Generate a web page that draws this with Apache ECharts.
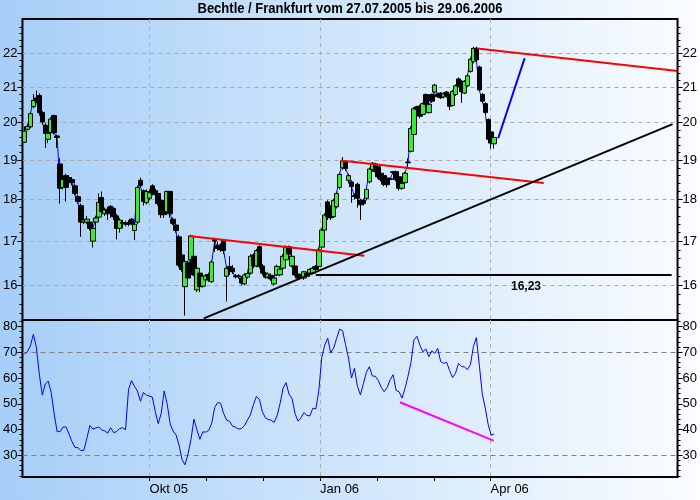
<!DOCTYPE html>
<html><head><meta charset="utf-8">
<script src="https://cdn.jsdelivr.net/npm/echarts@6/dist/echarts.min.js"></script>
<style>
html,body{margin:0;padding:0;}
#c{width:700px;height:500px;background:linear-gradient(to right,#a6cef8 0%,#d0e6fb 50%,#fbfdff 100%);}
</style>
</head><body><div id="c"></div>
<script>
const titleText = 'Bechtle / Frankfurt vom 27.07.2005 bis 29.06.2006';

// daily candles (trading-day index 0..158)
const openP = [19.47,19.82,19.89,20.45,20.69,20.76,20.28,19.93,19.55,19.73,
20.2,19.64,18.9,18.3,18.6,18.55,18.5,18.34,18.07,17.85,
17.45,17.45,17.45,17.0,17.45,17.57,18.05,17.65,17.76,17.83,
17.78,17.6,17.3,17.44,17.42,17.44,17.52,17.25,17.45,18.48,
18.22,17.92,18.03,18.34,18.22,18.15,17.98,17.7,17.7,18.2,
17.52,17.38,17.1,16.68,15.97,16.5,16.57,16.65,15.9,16.27,
15.98,16.12,16.24,16.08,17.04,16.9,16.91,17.02,16.2,16.42,
16.38,16.21,16.21,16.16,16.03,16.18,16.27,16.68,16.43,16.87,
16.43,16.27,16.18,16.22,16.03,16.23,16.23,16.38,16.57,16.87,
16.43,16.43,16.25,16.21,16.16,16.27,16.27,16.27,16.42,16.42,
16.86,17.26,17.94,17.82,17.58,17.82,18.3,18.8,18.96,18.48,
18.44,18.1,18.38,17.98,17.98,18.03,18.44,18.75,18.9,18.83,
18.66,18.6,18.54,18.52,18.68,18.7,18.57,18.28,18.42,18.95,
19.23,19.68,20.44,20.46,20.23,20.79,20.28,20.79,20.86,20.8,
20.83,20.72,20.86,20.79,20.48,20.79,21.24,21.17,20.83,21.04,
21.46,21.75,22.15,21.59,20.79,20.53,20.09,19.75,19.43];
const closeP = [19.77,19.9,20.25,20.62,20.6,20.28,20.02,19.71,19.71,20.1,
19.73,19.6,18.28,18.5,18.3,18.43,18.42,18.15,17.95,17.45,
17.5,17.52,17.3,17.3,17.55,17.93,17.7,17.74,17.65,17.7,
17.58,17.3,17.5,17.42,17.4,17.4,17.43,17.4,18.3,18.35,
17.95,18.2,18.17,18.15,18.12,17.9,17.63,17.63,18.2,17.65,
17.42,17.25,16.45,16.35,16.53,16.16,17.12,16.23,16.38,15.97,
16.2,16.21,16.12,16.52,17.0,16.83,16.8,16.78,16.38,16.35,
16.3,16.19,16.19,16.05,16.23,16.26,16.65,16.43,16.78,16.42,
16.27,16.18,16.25,16.14,16.16,16.42,16.36,16.65,16.86,16.7,
16.65,16.23,16.16,16.19,16.3,16.2,16.35,16.38,16.35,16.8,
17.26,17.62,17.58,17.55,17.98,18.15,18.63,18.98,18.78,18.6,
18.32,18.07,18.03,17.87,17.9,18.25,18.77,18.92,18.7,18.57,
18.5,18.38,18.37,18.5,18.7,18.5,18.28,18.4,18.66,18.93,
19.84,20.39,20.37,20.18,20.53,20.51,20.51,20.6,21.06,20.73,
20.7,20.81,20.75,20.46,20.88,21.04,21.04,20.87,21.17,21.33,
21.82,22.15,21.8,20.92,20.6,20.28,19.55,19.45,19.6];
const lowP = [19.45,19.78,19.85,20.4,20.55,20.2,19.95,19.32,19.45,19.7,
19.68,19.32,17.9,18.25,17.95,18.35,18.35,18.1,17.9,17.1,
17.4,17.4,17.25,16.85,17.3,17.5,17.65,17.6,17.5,17.55,
17.5,17.04,17.2,17.3,17.35,17.35,17.38,17.03,17.4,18.3,
17.85,17.88,17.98,18.1,18.08,17.85,17.55,17.55,17.65,17.55,
17.38,17.2,16.4,16.3,15.35,16.1,16.5,16.2,15.85,15.85,
15.95,16.08,16.08,16.05,16.75,16.78,16.75,16.7,15.65,16.23,
16.25,16.15,16.15,16.0,16.0,16.15,16.24,16.38,16.4,16.38,
16.22,16.14,16.15,16.1,16.0,16.2,16.2,16.35,16.52,16.65,
16.4,16.2,16.12,16.15,16.12,16.16,16.24,16.24,16.3,16.38,
16.82,17.2,17.5,17.5,17.55,17.78,18.25,18.75,18.72,18.4,
17.92,18.0,17.8,17.5,17.85,17.98,18.4,18.7,18.65,18.52,
18.45,18.33,18.3,18.45,18.65,18.45,18.22,18.24,18.38,18.83,
19.2,19.65,20.33,20.12,20.2,20.47,20.25,20.55,20.82,20.7,
20.66,20.68,20.7,20.35,20.45,20.75,21.0,20.55,20.8,21.0,
21.42,21.7,21.75,20.88,20.55,20.22,19.5,19.3,19.3];
const highP = [19.9,19.97,20.3,20.8,20.9,20.82,20.32,20.0,19.76,20.15,
20.22,19.68,19.05,18.55,18.65,18.6,18.55,18.4,18.12,17.9,
17.55,17.6,17.5,17.33,17.6,18.15,18.2,17.8,17.82,17.86,
17.82,17.65,17.55,17.5,17.48,17.5,17.55,17.45,18.35,18.55,
18.25,18.25,18.25,18.38,18.27,18.2,18.02,17.75,18.22,18.22,
17.56,17.42,17.15,16.72,16.6,16.55,17.15,16.7,16.42,16.3,
16.25,16.25,16.28,16.56,17.08,16.98,16.95,17.05,16.42,16.65,
16.45,16.25,16.25,16.2,16.27,16.3,16.7,16.72,16.82,16.9,
16.47,16.3,16.28,16.26,16.2,16.46,16.4,16.7,16.9,16.9,
16.7,16.46,16.28,16.24,16.32,16.3,16.38,16.42,16.45,16.85,
17.3,17.66,17.98,17.86,18.02,18.2,18.68,19.08,19.0,18.65,
18.48,18.15,18.42,18.02,18.02,18.28,18.8,18.95,18.93,18.86,
18.7,18.63,18.57,18.55,18.72,18.73,18.6,18.43,18.7,19.05,
19.9,20.43,20.47,20.5,20.56,20.82,20.55,20.82,21.1,20.84,
20.86,20.85,20.89,20.82,20.92,21.08,21.28,21.2,21.2,21.37,
21.86,22.2,22.2,21.63,20.83,20.57,20.12,19.8,19.65];

// RSI values on the same trading-day index
const rsiValues = [69.3,70.3,72.5,77,72,61.5,53.4,57.7,58.8,54.3,
46,39.2,39.2,41,41,38.2,35.3,33,33,31.8,
32,36.6,41.6,40.2,40.6,41,39.8,39.5,38.6,40.7,
38.8,39.2,40.4,40.7,39.9,55.5,59,56.8,55,51,
54.4,53.4,53,52.6,47,42.3,46.3,55,50,42.2,
39.4,37.9,34,28.4,26.3,30.5,36,44,40,36.2,
39.1,39,39.7,42.5,48.6,50.5,50.2,46.2,43.7,43.2,
41.3,40.9,40.2,40.4,41.5,43.7,45.7,49.6,52.8,51.8,
47,44.6,43.9,43.6,42.8,45.5,50.2,56.1,58.2,53.7,
52.1,46.3,43.3,44.5,46.6,45.5,45.3,48.3,48,55,
68,72.8,75.5,69.8,71.6,75.4,79,78.4,73,67.8,
60,63.8,56.8,53.5,57.8,62.2,64.4,60.8,60.7,59.1,
56.4,54.7,56.4,59.3,61.3,55.2,54.7,52.2,56,60.7,
66,74.8,76.2,72.8,70.2,71.3,68.3,70.6,69.6,71.5,
66.4,65.7,66.1,62.9,60.2,61.9,65.7,64.5,64.3,63.3,
65.2,72.2,75.7,65,53.7,48.3,41.8,37.8,38.3];

// drawn trend lines: [trading-day index, price]
const resistanceTop = [[152.33,22.145],[219.67,21.47]];
const resistanceMid = [[106.33,18.99],[174.67,18.41]];
const resistanceLow = [[55.33,17.12],[114.33,16.66]];
const supportLine = [[60.33,15.29],[218,19.96]];
const supportLevel = 16.23;
const supportLevelRange = [98,217.67];
const supportLevelLabelAt = 168.7;
const projection = [[159.33,19.58],[168.23,21.85]];
const rsiDivergence = [[126.3,50.6],[157.8,35.7]];

// axes
const priceTicks = [16,17,18,19,20,21,22];
const rsiTicks = [30,40,50,60,70,80];
const rsiGridLines = [30,70];
const monthTicks = [42.1,61.2,80.33,99.43,118.53,137.67,156.77];
const labelTicks = [42.1,99.43,156.77];
const labelTexts = ['Okt 05','Jan 06','Apr 06'];
const priceRange = [15.256,23.06];
const rsiRange = [21.57,82.54];
const dayRange = [-0.667,219.667];

const LN = Math.log;
const font = "'Liberation Sans', Arial, sans-serif";
const priceMinor = [];
for (let v = 15.4; v < 23.05; v += 0.2) { const r = Math.round(v*10)/10; if (Math.abs(r - Math.round(r)) > 0.01) priceMinor.push(LN(r)); }
const rsiMinor = [];
for (let v = 22; v <= 82; v += 2) { if (v % 10 !== 0) rsiMinor.push(v); }

// title: bold face condensed to the reference width
const titleFont = "bold 14px 'Liberation Sans Narrow', 'Liberation Sans', Arial, sans-serif";
const mctx = document.createElement('canvas').getContext('2d');
mctx.font = titleFont;
const titleScale = Math.min(1, 305 / mctx.measureText(titleText).width);

const chart = echarts.init(document.getElementById('c'), null, {renderer:'canvas', width:700, height:500});

const hidden = {axisLine:{show:false,onZero:false}, axisLabel:{show:false}, splitLine:{show:false}};
function pAxis(pos, extra) {
  return Object.assign({type:'value', gridIndex:0, position:pos, min:LN(priceRange[0]), max:LN(priceRange[1])}, hidden, extra);
}
function rAxis(pos, extra) {
  return Object.assign({type:'value', gridIndex:1, position:pos, min:rsiRange[0], max:rsiRange[1]}, hidden, extra);
}
function xAx(grid, extra) {
  return Object.assign({type:'value', gridIndex:grid, position:'bottom', min:dayRange[0], max:dayRange[1]}, hidden, extra);
}
const lblStyle = {show:true, color:'#000', fontSize:13, fontFamily:font, margin:5};
const vDash = {show:true, lineStyle:{color:'#b0b0b0', type:[4,4], width:1}};

const option = {
  animation:false,
  backgroundColor:'transparent',
  graphic:[{type:'text', x:350, y:9, scaleX:titleScale, silent:true,
    style:{text:titleText, font:titleFont, fill:'#000', align:'center', verticalAlign:'middle'}}],
  grid:[
    {left:20, right:19, top:19, height:301, show:true, borderColor:'#000', borderWidth:2, backgroundColor:'transparent'},
    {left:20, right:19, top:320, height:157, show:true, borderColor:'#000', borderWidth:2, backgroundColor:'transparent'}
  ],
  xAxis:[
    xAx(0, {axisTick:{show:false, customValues:labelTicks}, splitLine:vDash}),
    xAx(1, {axisTick:{show:true, length:4, customValues:monthTicks, lineStyle:{color:'#000'}},
            axisLabel:Object.assign({}, lblStyle, {customValues:labelTicks, align:'left', margin:6,
              formatter:(v)=>{const k = labelTicks.findIndex(t=>Math.abs(t-v)<0.01); return k>=0?labelTexts[k]:'';}})}),
    xAx(1, {axisTick:{show:false, customValues:labelTicks}, splitLine:vDash})
  ],
  yAxis:[
    pAxis('left', {axisTick:{show:true, length:5, customValues:priceTicks.map(LN), lineStyle:{color:'#000'}},
      axisLabel:Object.assign({}, lblStyle, {customValues:priceTicks.map(LN), formatter:(v)=>String(Math.round(Math.exp(v)))}),
      splitLine:{show:true, lineStyle:{color:'#a8a8a8', type:[4,4], width:1}}}),
    pAxis('right', {axisTick:{show:true, length:5, customValues:priceTicks.map(LN), lineStyle:{color:'#000'}},
      axisLabel:Object.assign({}, lblStyle, {customValues:priceTicks.map(LN), formatter:(v)=>String(Math.round(Math.exp(v)))})}),
    pAxis('left', {axisTick:{show:true, length:3, customValues:priceMinor, lineStyle:{color:'#000'}}}),
    pAxis('right', {axisTick:{show:true, length:3, customValues:priceMinor, lineStyle:{color:'#000'}}}),
    rAxis('left', {axisTick:{show:true, length:5, customValues:rsiTicks, lineStyle:{color:'#000'}},
      axisLabel:Object.assign({}, lblStyle, {customValues:rsiTicks})}),
    rAxis('right', {axisTick:{show:true, length:5, customValues:rsiTicks, lineStyle:{color:'#000'}},
      axisLabel:Object.assign({}, lblStyle, {customValues:rsiTicks})}),
    rAxis('left', {axisTick:{show:true, length:3, customValues:rsiMinor, lineStyle:{color:'#000'}}}),
    rAxis('right', {axisTick:{show:true, length:3, customValues:rsiMinor, lineStyle:{color:'#000'}}}),
    rAxis('left', {axisTick:{show:false, customValues:rsiGridLines}, splitLine:{show:true, lineStyle:{color:'#808080', type:[5,4], width:1}}})
  ],
  series:[
    {type:'line', xAxisIndex:0, yAxisIndex:0, data:closeP.map((c,i)=>[i, LN(c)]), symbol:'none', lineStyle:{color:'#0000ff', width:1}, z:1, silent:true},
    {type:'candlestick', xAxisIndex:0, yAxisIndex:0, barWidth:5,
      dimensions:['day','open','close','lowest','highest'], encode:{x:'day', y:['open','close','lowest','highest']},
      data:openP.map((o,i)=>[i, LN(o), LN(closeP[i]), LN(lowP[i]), LN(highP[i])]),
      itemStyle:{color:'#33ee33', color0:'#000000', borderColor:'#000000', borderColor0:'#000000', borderWidth:1}, z:2, silent:true},
    {type:'line', xAxisIndex:0, yAxisIndex:0, data:resistanceTop.map(p=>[p[0], LN(p[1])]), symbol:'none', lineStyle:{color:'#ff0000', width:2}, z:3},
    {type:'line', xAxisIndex:0, yAxisIndex:0, data:resistanceMid.map(p=>[p[0], LN(p[1])]), symbol:'none', lineStyle:{color:'#ff0000', width:2}, z:3},
    {type:'line', xAxisIndex:0, yAxisIndex:0, data:resistanceLow.map(p=>[p[0], LN(p[1])]), symbol:'none', lineStyle:{color:'#ff0000', width:2}, z:3},
    {type:'line', xAxisIndex:0, yAxisIndex:0, data:supportLine.map(p=>[p[0], LN(p[1])]), symbol:'none', lineStyle:{color:'#000000', width:2}, z:3},
    {type:'line', xAxisIndex:0, yAxisIndex:0, data:supportLevelRange.map(d=>[d, LN(supportLevel)]), symbol:'none', lineStyle:{color:'#000000', width:2}, z:3,
      markPoint:{symbol:'circle', symbolSize:1, itemStyle:{color:'rgba(0,0,0,0)'}, silent:true,
        data:[{coord:[supportLevelLabelAt, LN(supportLevel)], value:supportLevel}],
        label:{show:true, position:'inside', offset:[0,12], formatter:()=>String(supportLevel).replace('.',','), fontWeight:'bold', fontSize:12, color:'#000', fontFamily:font}}},
    {type:'line', xAxisIndex:0, yAxisIndex:0, data:projection.map(p=>[p[0], LN(p[1])]), symbol:'none', lineStyle:{color:'#0000ff', width:2}, z:3},
    {type:'line', xAxisIndex:1, yAxisIndex:4, data:rsiValues.map((v,i)=>[i, v]), symbol:'none', lineStyle:{color:'#0000ff', width:1}, z:2},
    {type:'line', xAxisIndex:1, yAxisIndex:4, data:rsiDivergence, symbol:'none', lineStyle:{color:'#ff00ff', width:2}, z:3}
  ]
};
chart.setOption(option);
</script>
</body></html>
